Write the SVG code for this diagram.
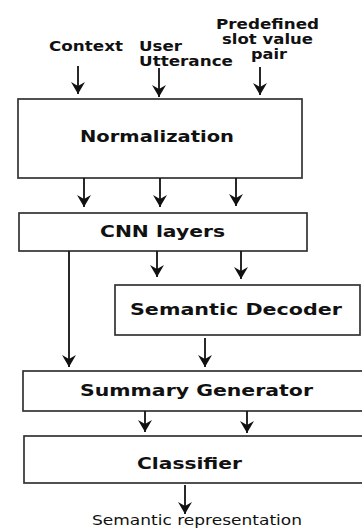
<svg xmlns="http://www.w3.org/2000/svg" width="362" height="530" viewBox="0 0 362 530">
<style>
.box{fill:#fff;stroke:#333;stroke-width:1.7}
.lbl{font-family:"DejaVu Sans",sans-serif;font-weight:bold;font-size:15.5px;fill:#111}
.in{font-family:"DejaVu Sans",sans-serif;font-weight:bold;font-size:14px;fill:#111}
.out{font-family:"DejaVu Sans",sans-serif;font-size:14px;fill:#111}
.c line{stroke:#111;stroke-width:1.8;marker-end:url(#ah)}
</style>
<defs>
<marker id="ah" markerUnits="userSpaceOnUse" viewBox="0 0 12 14" refX="12" refY="7" markerWidth="12" markerHeight="14" orient="auto">
<path d="M0,0 L12,7 L0,14 L4,7 z" fill="#111"/>
</marker>
</defs>
<rect width="362" height="530" fill="#fff"/>
<g id="inputs">
<text class="in" x="49" y="51" textLength="74" lengthAdjust="spacingAndGlyphs">Context</text>
<text class="in" x="139" y="50.5" textLength="43" lengthAdjust="spacingAndGlyphs">User</text>
<text class="in" x="139" y="65.5" textLength="94" lengthAdjust="spacingAndGlyphs">Utterance</text>
<text class="in" x="216" y="28.5" textLength="103" lengthAdjust="spacingAndGlyphs">Predefined</text>
<text class="in" x="222" y="43.5" textLength="91" lengthAdjust="spacingAndGlyphs">slot value</text>
<text class="in" x="251" y="58.5" textLength="36" lengthAdjust="spacingAndGlyphs">pair</text>
</g>
<g id="normalization">
<rect class="box" x="18" y="99" width="284" height="79"/>
<text class="lbl" x="80" y="142" textLength="154" lengthAdjust="spacingAndGlyphs">Normalization</text>
</g>
<g id="cnn">
<rect class="box" x="19" y="213" width="288" height="38"/>
<text class="lbl" x="100" y="236.5" textLength="125" lengthAdjust="spacingAndGlyphs">CNN layers</text>
</g>
<g id="decoder">
<rect class="box" x="115" y="285" width="245" height="50"/>
<text class="lbl" x="130" y="315" textLength="212" lengthAdjust="spacingAndGlyphs">Semantic Decoder</text>
</g>
<g id="summary">
<rect class="box" x="23" y="371" width="340" height="40"/>
<text class="lbl" x="80" y="395.5" textLength="233" lengthAdjust="spacingAndGlyphs">Summary Generator</text>
</g>
<g id="classifier">
<rect class="box" x="24" y="436" width="340" height="47"/>
<text class="lbl" x="137" y="469" textLength="105" lengthAdjust="spacingAndGlyphs">Classifier</text>
</g>
<g id="output">
<text class="out" x="92" y="524.5" textLength="210" lengthAdjust="spacingAndGlyphs">Semantic representation</text>
</g>
<g id="connectors" class="c">
<line x1="78" y1="66" x2="78" y2="94"/>
<line x1="159" y1="68" x2="159" y2="97"/>
<line x1="260" y1="67" x2="260" y2="95"/>
<line x1="84" y1="178" x2="84" y2="207"/>
<line x1="160" y1="178" x2="160" y2="207"/>
<line x1="236" y1="178" x2="236" y2="206"/>
<line x1="157" y1="251" x2="157" y2="277"/>
<line x1="241" y1="251" x2="241" y2="279"/>
<line x1="69" y1="251" x2="69" y2="367"/>
<line x1="205" y1="338" x2="205" y2="367"/>
<line x1="145" y1="411" x2="145" y2="432"/>
<line x1="247" y1="411" x2="247" y2="433"/>
<line x1="185" y1="485" x2="185" y2="514"/>
</g>
</svg>
